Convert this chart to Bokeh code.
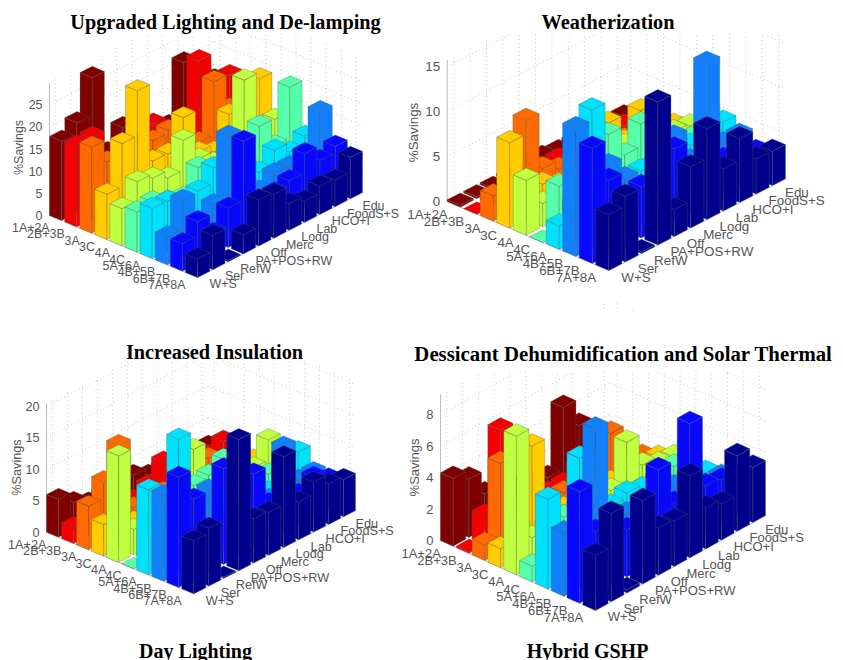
from math import pi
from bokeh.plotting import figure
from bokeh.models import Range1d
from bokeh.core.properties import value
from bokeh.embed import file_html
from bokeh.resources import INLINE

zones = ["1A+2A","2B+3B","3A","3C","4A","4C","5A+6A","4B+5B","6B+7B","7A+8A"]
types = ["W+S","Ser","RefW","PA+POS+RW","Off","Merc","Lodg","Lab","HCO+I","FoodS+S","Edu"]
colors = ["#800000","#f40000","#ff6a00","#ffcc00","#bfff40","#55ffaa","#00e1ff","#1080ff","#0808ff","#00008f"]

title_lighting = "Upgraded Lighting and De-lamping"
savings_lighting = [
 [17.9,20.3,28.7,10,13.9,9,8,9,21.4,17,14],
 [18.2,18.4,9,8,10,14.3,8,8,23.3,12,16.4],
 [19.4,14.3,10,8,13.7,14.3,8,8,20,12,15],
 [10.2,19.9,30,12.4,12.2,18.6,9,7.3,14,10,18.5],
 [8.4,12.7,11.7,10,16.7,10.7,8,9,23.2,10,10.8],
 [9.1,9.6,8,7,12,6,6,7,14.2,8,19.5],
 [11.3,11.1,8,9.9,13.4,6,6,7,10.2,8,9.8],
 [6.3,12.8,6,8.2,21.9,6,6,8.1,8,8,16.8],
 [6.2,9.4,5,8.9,22.2,6,7,8,12.3,9,10.4],
 [4.2,7.7,0.3,4.3,10.4,9.9,6,4.8,6.4,6,9.3],
]
title_weather = "Weatherization"
savings_weather = [
 [.2,.2,.2,.3,.4,.8,.5,.5,.5,.5,.6],
 [0,.2,.3,.5,.8,1.3,1,.8,1,1.3,1],
 [2.8,1,9.3,3,2,2,1.5,1.5,1.5,1.5,1.5],
 [9.5,3,3,2,2,2,6,3,5.5,3,2],
 [6.1,2.6,2,2,2,2,4.3,3,3,3,2.7],
 [0,5.3,4,3,8.2,5,7.5,3,3,3,3],
 [2.6,4,13.6,4,4,4,4,4,4,4,4.7],
 [14.2,5,8.2,5.8,4,3,7.6,4,13.9,4,4],
 [12.8,8.3,4,5.7,4,8,4,3,4,3,3],
 [6.2,7.3,.2,15.9,3,6.8,10.1,4.7,7.1,3.9,3.8],
]
title_insul = "Increased Insulation"
savings_insul = [
 [6,4.3,3,3,3,3.7,2.5,2.5,2.5,2.5,2.2],
 [2.5,2,2,2,2,3.1,5.6,3,3,3,4],
 [6.9,9.6,14.1,3,3,3,3,3,4.7,3,3],
 [5,3,3,3,3,3,3,4,3,3,3],
 [16.9,4,3,3,3,11.8,4,4,4,4,7.2],
 [0,4,4,4,8.3,8.7,10,4,4,4,4],
 [13.5,4,19.1,4,4,4,4,4,3.4,5,7.3],
 [13.6,5,5,10.8,5,5,5,4.4,11.5,5,5],
 [17.5,12.8,5,15.2,6,11.9,6,5,5,6.5,5],
 [8.4,9.2,.2,20.8,7,6.8,14.4,6,7.9,6.4,5.9],
]
title_desic = "Dessicant Dehumidification and Solar Thermal"
savings_desic = [
 [4.3,3.7,2.2,1.5,1.5,1,1,4.9,3.2,1.5,1.5],
 [.1,1.8,6.7,1,1,1,1,1.5,1.5,1,1],
 [1,5.6,2,1.5,1.5,1.5,1.5,2,3.6,1,1],
 [1.2,2,6.6,1.5,1.5,1.5,1.5,1.5,1.5,1.5,1.4],
 [8.8,1.8,2,2,2,2,2,4.5,2.5,2,1.9],
 [1,3,3,2,2,2,2,2,2,2.3,2],
 [5.7,3,7.2,3,3,3.3,3,3,2,2,1.8],
 [4,3,9.5,3,3,3,2.5,3,3,2,2],
 [7.1,4,3,3,3,5.7,3,7.5,3,2.8,2.5],
 [3.5,5.6,.2,5.3,3,2.9,5.2,2.6,2.3,4.8,3.5],
]
ticks_lighting = [0,5,10,15,20,25]
ticks_weather = [0,5,10,15]
ticks_insul = [0,5,10,15,20]
ticks_desic = [0,2,4,6,8]

panels = [
 dict(data=savings_lighting, ticks=ticks_lighting, zmax=30, L=(49,215), B=(197,277), R=(362,192), k=4.43,
      clip=33, fs=12.4, title=title_lighting, tpos=(225,21), tfs=20.3, ylab=(18,147)),
 dict(data=savings_weather, ticks=ticks_weather, zmax=15.7, L=(446.7,201), B=(608.3,270), R=(785,178.3), k=9.0,
      clip=33, fs=13.4, title=title_weather, tpos=(607.5,21), tfs=20.3, ylab=(413,132)),
 dict(data=savings_insul, ticks=ticks_insul, zmax=20.5, L=(46,531.7), B=(193.3,593.3), R=(355,510), k=6.3,
      clip=360, fs=12.7, title=title_insul, tpos=(214,351), tfs=20.3, ylab=(16,467)),
 dict(data=savings_desic, ticks=ticks_desic, zmax=9.3, L=(440,540), B=(595,610), R=(765,515), k=15.73,
      clip=371, fs=13, title=title_desic, tpos=(623,353), tfs=20.8, ylab=(414,467)),
]
extra_titles = [("Day Lighting",(195,650)),("Hybrid GSHP",(587,650))]

TXT = "#555555"
GRID = "#c4c4c4"
W = 0.4

p = figure(width=843, height=660, x_range=Range1d(0,843), y_range=Range1d(660,0),
           toolbar_location=None, output_backend="svg", min_border=0, outline_line_color=None,
           background_fill_color="white", border_fill_color="white")
p.axis.visible = False
p.grid.visible = False

def draw(pn):
    nz, nt = len(zones), len(types)
    L, B, R, k = pn["L"], pn["B"], pn["R"], pn["k"]
    dz = ((B[0]-L[0])/(nz-.2), (B[1]-L[1])/(nz-.2))
    dt = ((R[0]-B[0])/(nt-.2), (R[1]-B[1])/(nt-.2))
    ez, et = nz-.2, nt-.2
    def P(z, t, h=0.0):
        return (L[0]+z*dz[0]+t*dt[0], L[1]+z*dz[1]+t*dt[1]-h*k)
    zm = pn["zmax"]
    gx, gy = [], []
    def seg(a, b):
        gx.append([a[0], b[0]]); gy.append([a[1], b[1]])
    for t in range(nt):
        seg(P(0,t+W), P(0,t+W,zm)); seg(P(0,t+W), P(ez,t+W))
    for z in range(nz):
        seg(P(z+W,et), P(z+W,et,zm)); seg(P(z+W,0), P(z+W,et))
    for h in pn["ticks"]:
        seg(P(0,0,h), P(0,et,h)); seg(P(0,et,h), P(ez,et,h))
    p.multi_line(gx, gy, line_color=GRID, line_width=1, line_dash="1 3")
    # the reference crops its plots just below the titles
    cy = pn["clip"]
    x0, x1 = L[0]-5, R[0]+5
    p.quad(left=[x0], right=[x1], top=[cy-60], bottom=[cy], fill_color="white", line_color=None)
    ax = [[P(0,0)[0], P(0,0,zm)[0]], [P(0,0)[0], P(ez,0)[0]], [P(ez,0)[0], P(ez,et)[0]]]
    ay = [[P(0,0)[1], P(0,0,zm)[1]], [P(0,0)[1], P(ez,0)[1]], [P(ez,0)[1], P(ez,et)[1]]]
    p.multi_line(ax, ay, line_color="#bdbdbd", line_width=1)
    xs, ys, fc = [], [], []
    for z in range(nz):
        for t in range(nt-1, -1, -1):
            h = pn["data"][z][t]
            cz, ct = z+W, t+W
            a = (cz-W, ct-W); b = (cz+W, ct-W); c = (cz+W, ct+W); d = (cz-W, ct+W)
            faces = [
                [P(*a,0), P(*b,0), P(*b,h), P(*a,h)],
                [P(*b,0), P(*c,0), P(*c,h), P(*b,h)],
                [P(*a,h), P(*b,h), P(*c,h), P(*d,h)],
            ]
            for f in faces:
                xs.append([q[0] for q in f]); ys.append([q[1] for q in f]); fc.append(colors[z])
    p.patches(xs, ys, fill_color=fc, line_color="#4a5a50", line_alpha=0.4, line_width=0.8)
    fs = f'{pn["fs"]}px'
    zx = [P(z+W,0)[0]-6 for z in range(nz)]
    zy = [P(z+W,0)[1]+10 for z in range(nz)]
    p.text(zx, zy, text=zones, text_align="right", text_baseline="middle", text_color=TXT,
           text_font=value("Liberation Sans"), text_font_size=fs)
    tx = [P(ez,t+W)[0]+6 for t in range(nt)]
    ty = [P(ez,t+W)[1]+10 for t in range(nt)]
    p.text(tx, ty, text=types, text_align="left", text_baseline="middle", text_color=TXT,
           text_font=value("Liberation Sans"), text_font_size=fs)
    yx = [P(0,0,h)[0]-7 for h in pn["ticks"]]
    yy = [P(0,0,h)[1] for h in pn["ticks"]]
    p.text(yx, yy, text=[str(h) for h in pn["ticks"]], text_align="right", text_baseline="middle",
           text_color=TXT, text_font=value("Liberation Sans"), text_font_size=fs)
    p.text([pn["ylab"][0]], [pn["ylab"][1]], text=["%Savings"], angle=pi/2, text_align="center",
           text_baseline="middle", text_color=TXT, text_font=value("Liberation Sans"), text_font_size=fs)
    p.text([pn["tpos"][0]], [pn["tpos"][1]], text=[pn["title"]], text_align="center", text_baseline="middle",
           text_color="black", text_font=value("Liberation Serif"), text_font_style="bold",
           text_font_size=f'{pn["tfs"]}px')

for pn in panels:
    draw(pn)
for txt, pos in extra_titles:
    p.text([pos[0]], [pos[1]], text=[txt], text_align="center", text_baseline="middle", text_color="black",
           text_font=value("Liberation Serif"), text_font_style="bold", text_font_size="20px")

open("out.html", "w").write(file_html(p, INLINE))
